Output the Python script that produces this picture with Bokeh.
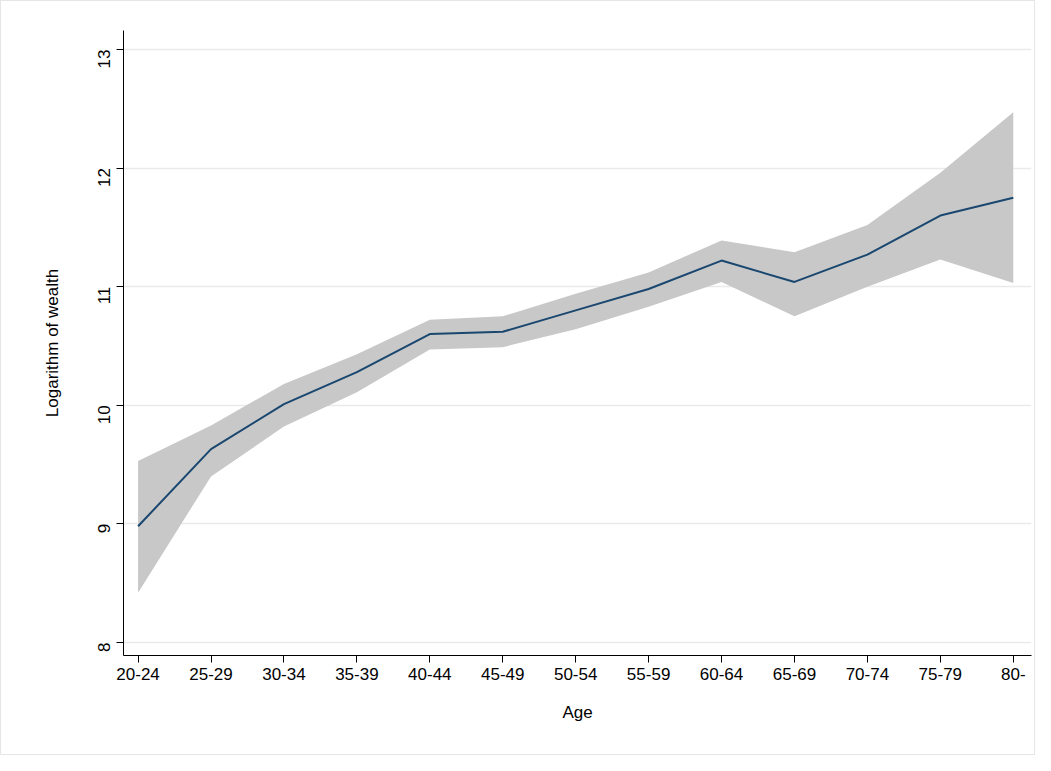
import math
from bokeh.plotting import figure
from bokeh.models import ColumnDataSource, FixedTicker, Range1d
from bokeh.embed import file_html
from bokeh.resources import INLINE

ages = ["20-24","25-29","30-34","35-39","40-44","45-49","50-54","55-59","60-64","65-69","70-74","75-79","80-"]
mean = [8.98,9.63,10.01,10.28,10.60,10.62,10.80,10.98,11.22,11.04,11.27,11.60,11.75]
lower = [8.42,9.40,9.82,10.11,10.47,10.49,10.64,10.83,11.04,10.75,11.00,11.23,11.03]
upper = [9.53,9.83,10.18,10.43,10.72,10.75,10.94,11.12,11.39,11.29,11.52,11.96,12.47]

xs = list(range(len(ages)))
src = ColumnDataSource(dict(x=xs, m=mean, lo=lower, hi=upper))

p = figure(width=1035, height=755, output_backend="svg", toolbar_location=None,
           x_range=Range1d(-0.2, 12.25), y_range=Range1d(7.89, 13.16),
           min_border_left=122, min_border_top=29, min_border_bottom=101, min_border_right=5)
p.styles = {"border": "1px solid #e6e6e6"}
p.outline_line_color = None
p.varea(x="x", y1="lo", y2="hi", source=src, fill_color="#c8c8c8", fill_alpha=1)
p.line(x="x", y="m", source=src, line_color="#1a476f", line_width=2)

p.xaxis.ticker = FixedTicker(ticks=xs)
p.xaxis.major_label_overrides = {i: a for i, a in enumerate(ages)}
p.yaxis.ticker = FixedTicker(ticks=[8, 9, 10, 11, 12, 13])
p.yaxis.major_label_orientation = math.pi / 2
p.xaxis.axis_label = "Age"
p.yaxis.axis_label = "Logarithm of wealth"
for ax in (p.xaxis, p.yaxis):
    ax.axis_label_text_font = "Liberation Sans"
    ax.axis_label_text_font_style = "normal"
    ax.axis_label_text_font_size = "17px"
    ax.major_label_text_font = "Liberation Sans"
    ax.major_label_text_font_size = "17px"
    ax.major_label_text_color = "#000000"
    ax.axis_label_text_color = "#000000"
    ax.axis_line_color = "#000000"
    ax.major_tick_line_color = "#000000"
    ax.minor_tick_line_color = None
    ax.major_tick_out = 7
    ax.major_tick_in = 0
p.xaxis.major_label_standoff = 5
p.xaxis.axis_label_standoff = 20
p.yaxis.major_label_standoff = 12
p.yaxis.axis_label_standoff = 28
p.xgrid.grid_line_color = None
p.ygrid.grid_line_color = "#eaeaea"
p.ygrid.grid_line_width = 1.5

open("out.html", "w").write(file_html(p, INLINE))
